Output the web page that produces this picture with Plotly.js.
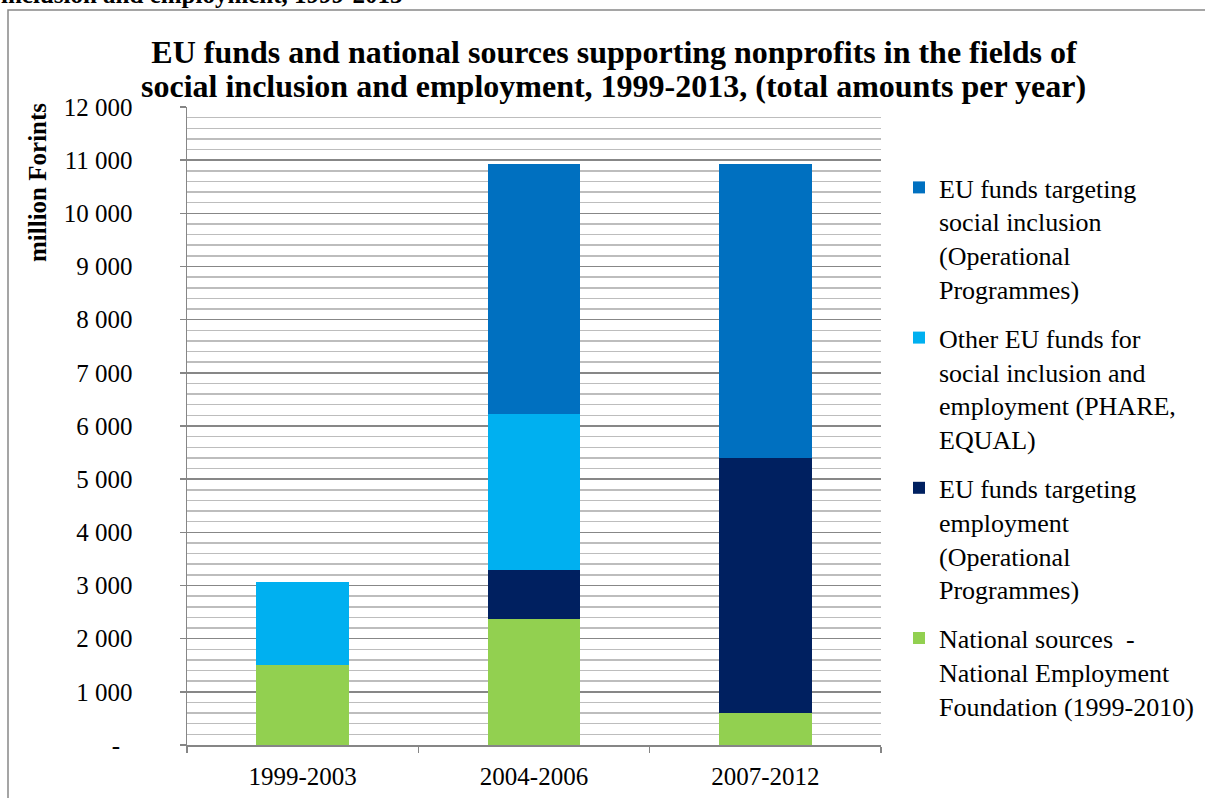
<!DOCTYPE html>
<html>
<head>
<meta charset="utf-8">
<script src="https://cdn.plot.ly/plotly-3.0.1.min.js"></script>
<style>
  html, body { margin: 0; padding: 0; background: #ffffff; }
  #chart { width: 1205px; height: 798px; }
</style>
</head>
<body>
<div id="chart"></div>
<script>
// ---- data (million Forints) ----
const periods = ["1999-2003", "2004-2006", "2007-2012"];
const nationalSources = [1505, 2370, 610];       // National Employment Foundation
const euEmploymentOP = [0, 930, 4790];           // EU funds targeting employment (OP)
const otherEUFunds = [1560, 2920, 0];            // PHARE, EQUAL
const euSocialInclusionOP = [0, 4710, 5520];     // EU funds targeting social inclusion (OP)

const seriesNames = [
  "National sources  -<br>National Employment<br>Foundation (1999-2010)",
  "EU funds targeting<br>employment<br>(Operational<br>Programmes)",
  "Other EU funds for<br>social inclusion and<br>employment (PHARE,<br>EQUAL)",
  "EU funds targeting<br>social inclusion<br>(Operational<br>Programmes)"
];
const seriesColors = ["#92D050", "#002060", "#00B0F0", "#0070C0"];
const seriesValues = [nationalSources, euEmploymentOP, otherEUFunds, euSocialInclusionOP];

const yTickVals = [0,1000,2000,3000,4000,5000,6000,7000,8000,9000,10000,11000,12000];
const yTickText = ["-\u00a0\u00a0","1 000","2 000","3 000","4 000","5 000","6 000","7 000","8 000","9 000","10 000","11 000","12 000"];

const titleLine1 = "EU funds and national sources supporting nonprofits in the fields of";
const titleLine2 = "social inclusion and employment, 1999-2013, (total amounts per year)";

const serif = "Liberation Serif, Times New Roman, serif";

const traces = seriesValues.map((vals, i) => ({
  type: "bar",
  x: periods,
  y: vals,
  name: seriesNames[i],
  legendgroup: "g" + i,
  legendrank: 1000 - i * 10,
  marker: { color: seriesColors[i], line: { width: 0 } },
  hoverinfo: "x+y+name"
}));

// geometry helpers (pixel -> paper)
const W = 1205, H = 798;
const mL = 187, mR = 324, mT = 107, mB = 53;
const pw = W - mL - mR, ph = H - mT - mB;
const px = x => (x - mL) / pw;
const py = y => (H - mB - y) / ph;

const layout = {
  width: W, height: H,
  margin: { l: mL, r: mR, t: mT, b: mB, pad: 0, autoexpand: false },
  paper_bgcolor: "#ffffff",
  plot_bgcolor: "#ffffff",
  barmode: "stack",
  bargap: 0.6,
  font: { family: serif, size: 25, color: "#000000" },
  title: {
    text: "<b>" + titleLine1 + "</b>",
    font: { family: serif, size: 32, color: "#000000" },
    x: 614 / W, xanchor: "center", xref: "container",
    y: 1 - 52 / H, yanchor: "middle", yref: "container"
  },
  xaxis: {
    type: "category",
    showgrid: false,
    showline: true, linecolor: "#868686", linewidth: 1.5,
    ticks: "outside", tickson: "boundaries", ticklen: 6, tickcolor: "#868686", tickwidth: 1.5,
    tickfont: { family: serif, size: 25, color: "#000000" },
    ticklabelstandoff: 8,
    zeroline: false,
    fixedrange: true
  },
  yaxis: {
    range: [0, 12000],
    tickvals: yTickVals,
    ticktext: yTickText,
    showline: true, linecolor: "#868686", linewidth: 1.5,
    ticks: "outside", ticklen: 6, tickcolor: "#868686", tickwidth: 1.5,
    tickfont: { family: serif, size: 25, color: "#000000" },
    ticklabelstandoff: 42,
    showgrid: true, gridcolor: "#878787", gridwidth: 1.5,
    minor: { dtick: 200, showgrid: true, gridcolor: "#bdbdbd", gridwidth: 1.5, ticks: "" },
    zeroline: false,
    fixedrange: true
  },
  legend: {
    x: px(899), xanchor: "left",
    y: py(164), yanchor: "top",
    traceorder: "grouped",
    valign: "top",
    tracegroupgap: 12,
    itemgap: 0,
    font: { family: serif, size: 26, color: "#000000" },
    bgcolor: "rgba(0,0,0,0)",
    borderwidth: 0
  },
  annotations: [
    {
      text: "<b>" + titleLine2 + "</b>",
      xref: "paper", yref: "paper",
      x: px(613), y: py(86), xanchor: "center", yanchor: "middle",
      showarrow: false,
      font: { family: serif, size: 32, color: "#000000" }
    },
    {
      text: "<b>million Forints</b>",
      xref: "paper", yref: "paper",
      x: px(38), y: py(183), xanchor: "center", yanchor: "middle",
      textangle: -90, showarrow: false,
      font: { family: serif, size: 25, color: "#000000" }
    },
    {
      text: "<b>inclusion and employment, 1999-2013</b>",
      xref: "paper", yref: "paper",
      x: px(-1), y: py(-6), xanchor: "left", yanchor: "middle",
      showarrow: false,
      font: { family: serif, size: 25, color: "#000000" }
    }
  ],
  shapes: [
    {
      type: "rect", xref: "paper", yref: "paper",
      x0: px(8), x1: px(1300), y0: py(900), y1: py(10),
      line: { color: "#888888", width: 1.5 },
      fillcolor: "rgba(0,0,0,0)",
      layer: "below"
    }
  ],
  showlegend: true
};

Plotly.newPlot("chart", traces, layout, { displayModeBar: false, staticPlot: true });
</script>
</body>
</html>
